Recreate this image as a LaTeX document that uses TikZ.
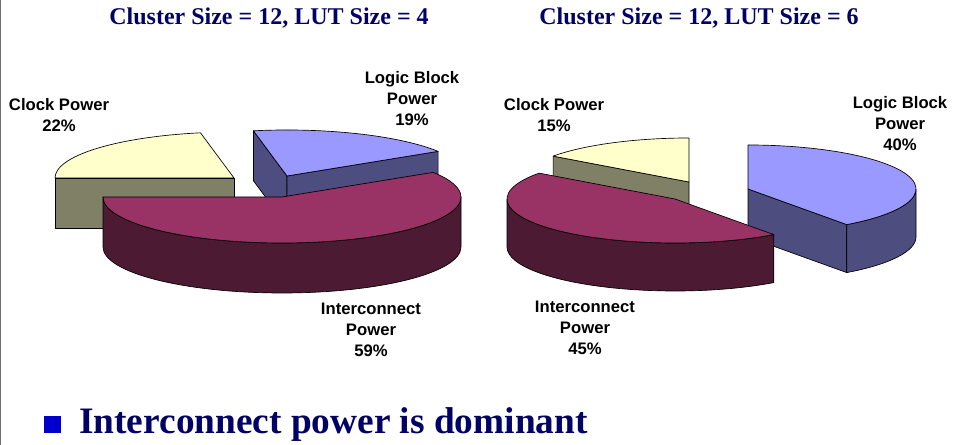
\documentclass[tikz,border=0pt]{standalone}
\usepackage{fontspec}
\setmainfont{Liberation Serif}
\newfontfamily\labelfont{Liberation Sans}
\usetikzlibrary{calc}

\definecolor{navytext}{RGB}{0,0,102}
\definecolor{bulletblue}{RGB}{0,0,204}
\definecolor{framegray}{RGB}{110,110,110}
\definecolor{clocktop}{RGB}{255,255,204}
\definecolor{clockside}{RGB}{128,128,102}
\definecolor{logictop}{RGB}{153,153,255}
\definecolor{logicside}{RGB}{77,77,128}
\definecolor{wiretop}{RGB}{153,51,102}
\definecolor{wireside}{RGB}{77,26,51}

\tikzset{
  face/.style={draw=black, line width=0.5pt, line join=round},
  pietext/.style={font=\labelfont\bfseries\fontsize{12.5}{15.75}\selectfont,
    align=center, text=black, inner sep=0pt},
  charttitle/.style={font=\bfseries\fontsize{18}{21}\selectfont,
    text=navytext, inner sep=0pt, anchor=base},
  bullettext/.style={font=\bfseries\fontsize{28}{32}\selectfont,
    text=navytext, inner sep=0pt, anchor=base west},
}

\begin{document}
\begin{tikzpicture}[x=0.75pt, y=0.75pt]
  % page area
  \useasboundingbox (0,0) rectangle (953,445);
  \fill[white] (0,0) rectangle (953,445);
  \draw[framegray, line width=0.9pt] (0.6,0) -- (0.6,445);

  % chart titles
  \node[charttitle] (titleA) at (269,420) {Cluster Size = 12, LUT Size = 4};
  \node[charttitle] (titleB) at (699,420) {Cluster Size = 12, LUT Size = 6};

  % ---------- pie 1: LUT size 4 (rx 179, ry 46, depth 50) ----------
  \coordinate (ckA) at (234,267);
  \coordinate (lgA) at (287,269);
  \coordinate (icA) at (282,248);

  % clock slice, 100.8 -- 180 deg
  \path[face, fill=clockside] (ckA) -- ++(-179,0) -- ++(0,-50) -- ($(ckA)+(0,-50)$) -- cycle;
  \path[face, fill=clocktop] (ckA) -- ++(100.8:179 and 46)
    arc[start angle=100.8, end angle=180, x radius=179, y radius=46] -- cycle;

  % logic block slice, 32.4 -- 100.8 deg
  \path[face, fill=logicside] (lgA) -- ++(100.8:179 and 46) -- ++(0,-50) -- ($(lgA)+(0,-50)$) -- cycle;
  \path[face, fill=logicside] (lgA) -- ++(32.4:179 and 46) -- ++(0,-50) -- ($(lgA)+(0,-50)$) -- cycle;
  \path[face, fill=logictop] (lgA) -- ++(32.4:179 and 46)
    arc[start angle=32.4, end angle=100.8, x radius=179, y radius=46] -- cycle;

  % interconnect slice, 180 -- 392.4 deg
  \path[face, fill=wireside] ($(icA)+(-179,0)$)
    arc[start angle=180, end angle=360, x radius=179, y radius=46] -- ++(0,-50)
    arc[start angle=360, end angle=180, x radius=179, y radius=46] -- cycle;
  \path[face, fill=wiretop] (icA) -- ++(-179,0)
    arc[start angle=180, end angle=392.4, x radius=179, y radius=46] -- cycle;

  \node[pietext] (ckAlbl) at (59,330) {Clock Power\\22\%};
  \node[pietext] (lgAlbl) at (412,346.5) {Logic Block\\Power\\19\%};
  \node[pietext] (icAlbl) at (371,115) {Interconnect\\Power\\59\%};

  % ---------- pie 2: LUT size 6 (rx 168, ry 44, depth 48) ----------
  \coordinate (ckB) at (689,263);
  \coordinate (lgB) at (748,256);
  \coordinate (icB) at (675,246);

  % clock slice, 90 -- 144 deg
  \path[face, fill=clockside] (ckB) -- ++(144:168 and 44) -- ++(0,-48) -- ($(ckB)+(0,-48)$) -- cycle;
  \path[face, fill=clocktop] (ckB) -- ++(90:168 and 44)
    arc[start angle=90, end angle=144, x radius=168, y radius=44] -- cycle;

  % logic block slice, -54 -- 90 deg
  \path[face, fill=logicside] (lgB) -- ++(-54:168 and 44) -- ++(0,-48) -- ($(lgB)+(0,-48)$) -- cycle;
  \path[face, fill=logicside] ($(lgB)+(-54:168 and 44)$)
    arc[start angle=-54, end angle=0, x radius=168, y radius=44] -- ++(0,-48)
    arc[start angle=0, end angle=-54, x radius=168, y radius=44] -- cycle;
  \path[face, fill=logictop] (lgB) -- ++(-54:168 and 44)
    arc[start angle=-54, end angle=90, x radius=168, y radius=44] -- cycle;

  % interconnect slice, 144 -- 306 deg
  \path[face, fill=wireside] ($(icB)+(-168,0)$)
    arc[start angle=180, end angle=306, x radius=168, y radius=44] -- ++(0,-48)
    arc[start angle=306, end angle=180, x radius=168, y radius=44] -- cycle;
  \path[face, fill=wiretop] (icB) -- ++(144:168 and 44)
    arc[start angle=144, end angle=306, x radius=168, y radius=44] -- cycle;

  \node[pietext] (ckBlbl) at (554,329.5) {Clock Power\\15\%};
  \node[pietext] (lgBlbl) at (900,321) {Logic Block\\Power\\40\%};
  \node[pietext] (icBlbl) at (585,117.5) {Interconnect\\Power\\45\%};

  % bullet point
  \node[fill=bulletblue, minimum size=17*0.75pt, inner sep=0pt] (bulletmark) at (52.5,20) {};
  \node[bullettext] (bulletline) at (79,11) {Interconnect power is dominant};
\end{tikzpicture}
\end{document}
